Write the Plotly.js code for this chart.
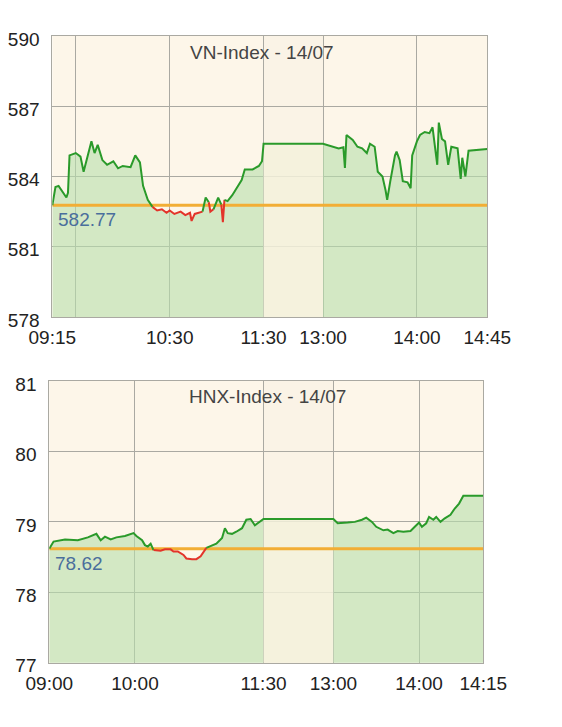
<!DOCTYPE html>
<html><head><meta charset="utf-8">
<script src="https://cdn.plot.ly/plotly-3.0.1.min.js"></script>
<style>html,body{margin:0;padding:0;background:#fff}#chart{width:562px;height:727px}</style>
</head><body><div id="chart"></div>
<script>
// ---------- VN-Index ----------
const vnTitle = 'VN-Index - 14/07';
const vnRef = 582.77;
const vnTimes = ['09:15','09:17','09:19','09:21','09:24','09:25','09:26','09:30','09:33','09:35','09:38','09:40','09:42','09:44','09:47','09:50','09:54','09:57','10:00','10:05','10:08','10:11','10:13','10:16','10:19','10:22','10:25','10:28','10:30','10:33','10:37','10:40','10:43','10:44','10:46','10:48','10:51','10:53','10:55','10:56','10:58','11:01','11:03','11:04','11:05','11:07','11:10','11:13','11:16','11:18','11:23','11:27','11:29','11:30',
  '13:00','13:10','13:13','13:14','13:15','13:19','13:22','13:25','13:28','13:30','13:33','13:35','13:38','13:40','13:41','13:43','13:46','13:47','13:49','13:51','13:54','13:56','13:57','14:00','14:02','14:05','14:08','14:10','14:13','14:14','14:16','14:18','14:20','14:22','14:26','14:28','14:29','14:31','14:33','14:45'];
const vnValues = [582.77,583.55,583.6,583.4,583.1,583.3,584.9,585.0,584.85,584.2,585.06,585.5,585.0,585.35,584.7,584.5,584.65,584.35,584.45,584.4,584.9,584.6,583.6,583.0,582.7,582.55,582.6,582.45,582.55,582.4,582.5,582.35,582.45,582.1,582.4,582.45,582.5,583.1,582.9,582.5,582.6,583.1,582.8,582.05,583.0,582.95,583.2,583.5,583.85,584.3,584.3,584.45,584.65,585.4,
  585.4,585.2,585.25,584.36,585.77,585.56,585.27,585.2,585.0,585.4,585.27,584.2,584.0,583.4,583.0,583.8,584.9,585.06,584.7,583.8,583.75,583.5,584.9,585.5,585.77,585.9,585.85,586.1,584.5,586.3,585.6,585.5,584.5,585.27,585.2,583.9,584.8,584.0,585.1,585.17];
const vnTickTimes = ['09:15','09:30','10:30','11:30','13:00','14:00','14:45'];
const vnTickText  = ['09:15','','10:30','11:30','13:00','14:00','14:45'];
const vnYTicks = [578,581,584,587,590];
const vnRange = [578,590];

// ---------- HNX-Index ----------
const hnxTitle = 'HNX-Index - 14/07';
const hnxRef = 78.62;
const hnxTimes = ['09:00','09:03','09:11','09:20','09:27','09:33','09:36','09:39','09:43','09:47','09:53','09:59','10:01','10:05','10:07','10:09','10:11','10:13','10:18','10:21','10:25','10:27','10:30','10:34','10:36','10:40','10:43','10:46','10:48','10:50','10:54','10:57','11:01','11:03','11:05','11:08','11:11','11:15','11:18','11:21','11:24','11:26','11:30',
  '13:00','13:03','13:10','13:15','13:20','13:23','13:27','13:30','13:35','13:38','13:42','13:45','13:49','13:54','13:57','14:00','14:02','14:05','14:07','14:10','14:12','14:15','14:18','14:22','14:25','14:28','14:31','14:45'];
const hnxValues = [78.62,78.72,78.75,78.74,78.78,78.83,78.74,78.79,78.75,78.78,78.80,78.84,78.80,78.74,78.67,78.65,78.69,78.60,78.59,78.61,78.61,78.58,78.58,78.53,78.48,78.47,78.47,78.51,78.58,78.63,78.67,78.69,78.77,78.91,78.84,78.83,78.86,78.91,79.03,79.04,78.95,78.98,79.04,
  79.04,78.98,78.99,79.00,79.03,79.06,79.00,78.93,78.88,78.89,78.84,78.87,78.86,78.87,78.93,78.99,78.93,78.98,79.07,79.03,79.07,79.00,79.05,79.10,79.19,79.26,79.37,79.37];
const hnxTickTimes = ['09:00','10:00','11:30','13:00','14:00','14:45'];
const hnxTickText  = ['09:00','10:00','11:30','13:00','14:00','14:15'];
const hnxYTicks = [77,78,79,80,81];
const hnxRange = [77,81];

// ---------- styling ----------
const FONT = 'Liberation Sans, Arial, sans-serif';
const GREEN = '#2a9a2a', RED = '#e3342a', ORANGE = '#f2ae35';
const FILL = 'rgba(183,223,171,0.6)', FILL_LUNCH = 'rgba(243,241,219,0.85)';
const GRID = '#aaa9a2';

function mins(t){const p=t.split(':');return +p[0]*60+ +p[1];}
// compressed session scale: morning, lunch break (shortened), afternoon
function makeScale(open, lunchUnits){
  return function(t){
    const m = mins(t);
    if (m <= 690) return m - open;
    if (m >= 780) return (690-open) + lunchUnits + (m-780);
    return (690-open) + lunchUnits*(m-690)/90;
  };
}

function buildChart(times, values, ref, scale, xa, ya){
  const traces = [];
  const xs = times.map(scale);
  const mEnd = times.indexOf('11:30'), aStart = times.indexOf('13:00');
  const pieces = [[0,mEnd,FILL],[mEnd,aStart,FILL_LUNCH],[aStart,times.length-1,FILL]];
  pieces.forEach(p=>{
    traces.push({x:xs.slice(p[0],p[1]+1), y:values.slice(p[0],p[1]+1), xaxis:xa, yaxis:ya,
      type:'scatter', mode:'lines', line:{width:0}, fill:'tozeroy', fillcolor:p[2], hoverinfo:'skip', showlegend:false});
  });
  traces.push({x:[xs[0], xs[xs.length-1]], y:[ref,ref], xaxis:xa, yaxis:ya, type:'scatter', mode:'lines',
    line:{color:ORANGE,width:3}, showlegend:false, hoverinfo:'skip'});
  // colour runs: red below reference, green above
  let runStart = 0, cur = null;
  const segCol = i => ((values[i-1]+values[i])/2 < ref) ? RED : GREEN;
  for (let i=1;i<values.length;i++){
    const c = segCol(i);
    if (cur === null) cur = c;
    if (c !== cur){
      traces.push({x:xs.slice(runStart,i), y:values.slice(runStart,i), xaxis:xa, yaxis:ya, type:'scatter', mode:'lines', line:{color:cur,width:2}, showlegend:false});
      runStart = i-1; cur = c;
    }
  }
  traces.push({x:xs.slice(runStart), y:values.slice(runStart), xaxis:xa, yaxis:ya, type:'scatter', mode:'lines', line:{color:cur,width:2}, showlegend:false});
  return traces;
}

const vnScale = makeScale(555, 38);
const hnxScale = makeScale(540, 49);
const data = [].concat(
  buildChart(vnTimes, vnValues, vnRef, vnScale, 'x', 'y'),
  buildChart(hnxTimes, hnxValues, hnxRef, hnxScale, 'x2', 'y2')
);

const tickFont = {family:FONT, size:19, color:'#222'};
function xAxis(domain, anchor, ticks, texts, scale){
  const tv = ticks.map(scale);
  return {domain:domain, anchor:anchor, range:[tv[0], tv[tv.length-1]], tickmode:'array', tickvals:tv, ticktext:texts,
    showgrid:true, gridcolor:GRID, gridwidth:1, zeroline:false, showline:true, mirror:true, linecolor:GRID, linewidth:1,
    ticks:'', tickfont:tickFont, ticklabelstandoff:3, fixedrange:true};
}
function yAxis(domain, anchor, ticks, range, side, overlay){
  const a = {domain:domain, anchor:anchor, range:range, tickmode:'array', tickvals:ticks, ticktext:ticks.map(String),
    zeroline:false, ticks:'', tickfont:tickFont, side:side, ticklabelstandoff:8, ticklabelshift:3, fixedrange:true};
  if (overlay){ a.overlaying = overlay; a.showgrid=false; a.showline=false; }
  else { a.showgrid=true; a.gridcolor=GRID; a.showline=true; a.mirror=true; a.linecolor=GRID; }
  return a;
}

const topY = [0.5640, 0.9505], botY = [0.0884, 0.4759];
const layout = {
  width:562, height:727, margin:{l:0,r:0,t:0,b:0}, paper_bgcolor:'#ffffff', plot_bgcolor:'#fdf6e9',
  showlegend:false, font:{family:FONT},
  xaxis: xAxis([0.0931,0.8671], 'y', vnTickTimes, vnTickText, vnScale),
  yaxis: yAxis(topY, 'x', vnYTicks, vnRange, 'left'),
  yaxis3: yAxis(topY, 'x', vnYTicks, vnRange, 'right', 'y'),
  xaxis2: xAxis([0.0877,0.8600], 'y2', hnxTickTimes, hnxTickText, hnxScale),
  yaxis2: yAxis(botY, 'x2', hnxYTicks, hnxRange, 'left'),
  yaxis4: yAxis(botY, 'x2', hnxYTicks, hnxRange, 'right', 'y2'),
  shapes:[
    {type:'rect', xref:'x', yref:'y domain', x0:vnScale('11:30'), x1:vnScale('13:00'), y0:0, y1:1, fillcolor:'#faf3e6', line:{width:0}, layer:'below'},
    {type:'rect', xref:'x2', yref:'y2 domain', x0:hnxScale('11:30'), x1:hnxScale('13:00'), y0:0, y1:1, fillcolor:'#faf3e6', line:{width:0}, layer:'below'}
  ],
  annotations:[
    {text:vnTitle, xref:'paper', yref:'paper', x:262/562, y:1-52/727, xanchor:'center', yanchor:'middle', showarrow:false, font:{family:FONT,size:19,color:'#444'}},
    {text:hnxTitle, xref:'paper', yref:'paper', x:267/562, y:1-396/727, xanchor:'center', yanchor:'middle', showarrow:false, font:{family:FONT,size:19,color:'#444'}},
    {text:String(vnRef), xref:'x', yref:'y', x:0, y:vnRef, xanchor:'left', yanchor:'top', xshift:4, yshift:-2, showarrow:false, font:{family:FONT,size:19,color:'#4a6e9c'}},
    {text:String(hnxRef), xref:'x2', yref:'y2', x:0, y:hnxRef, xanchor:'left', yanchor:'top', xshift:4, yshift:-2, showarrow:false, font:{family:FONT,size:19,color:'#4a6e9c'}}
  ]
};
Plotly.newPlot('chart', data, layout, {staticPlot:true, displayModeBar:false});
</script>
</body></html>
